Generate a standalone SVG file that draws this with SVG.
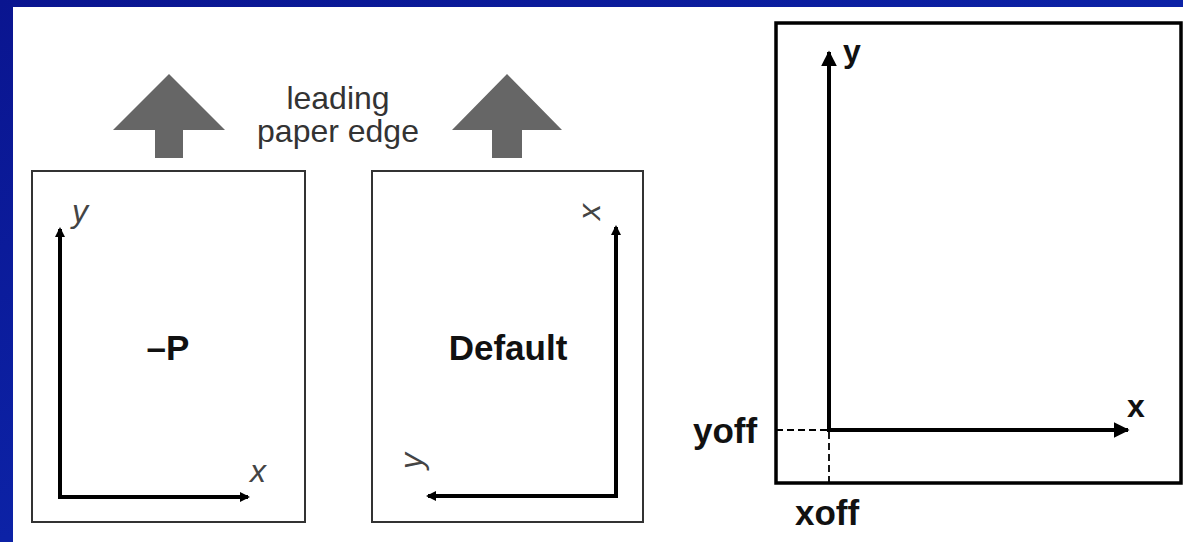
<svg xmlns="http://www.w3.org/2000/svg" width="1183" height="542" viewBox="0 0 1183 542">
<defs>
<linearGradient id="bg" x1="0" y1="0" x2="1" y2="1">
<stop offset="0" stop-color="#0a1590"/>
<stop offset="0.5" stop-color="#0c22a6"/>
<stop offset="1" stop-color="#0a1a9c"/>
</linearGradient>
<marker id="sm" viewBox="0 0 10 10" refX="8" refY="5" markerUnits="userSpaceOnUse" markerWidth="10" markerHeight="10" orient="auto-start-reverse">
<path d="M0,0 L10,5 L0,10 z" fill="#000"/>
</marker>
<marker id="lg" viewBox="0 0 10 10" refX="9" refY="5" markerUnits="userSpaceOnUse" markerWidth="16" markerHeight="17" orient="auto-start-reverse">
<path d="M0,0 L10,5 L0,10 z" fill="#000"/>
</marker>
</defs>
<style>
.page{fill:#fff;stroke:#333;stroke-width:2}
.pageb{fill:#fff;stroke:#000;stroke-width:3.5}
.axis{fill:none;stroke:#000;stroke-width:4}
.dash{fill:none;stroke:#000;stroke-width:1.8;stroke-dasharray:7 4}
.lbl{font-family:"Liberation Sans",Arial,sans-serif;font-size:32px;fill:#333}
.it{font-family:"Liberation Sans",Arial,sans-serif;font-size:32px;font-style:italic;fill:#444}
.b{font-family:"Liberation Sans",Arial,sans-serif;font-size:35px;font-weight:bold;fill:#111}
.bs{font-family:"Liberation Sans",Arial,sans-serif;font-size:32px;font-weight:bold;fill:#111}
.feed{fill:#666}
</style>
<rect x="0" y="0" width="1183" height="542" fill="url(#bg)"/>
<rect x="13" y="7" width="1170" height="535" fill="#fff"/>

<g id="feed-arrow-1"><polygon class="feed" points="169,74 225,130 183,130 183,158 155,158 155,130 113,130"/></g>
<g id="feed-arrow-2"><polygon class="feed" points="507,74 562,130 522,130 522,158 492,158 492,130 452,130"/></g>
<g id="leading-label">
<text class="lbl" x="338" y="109" text-anchor="middle">leading</text>
<text class="lbl" x="338" y="142" text-anchor="middle">paper edge</text>
</g>

<g id="page-P">
<rect class="page" x="32" y="171" width="273" height="351"/>
<text class="b" x="168" y="360" text-anchor="middle">–P</text>
<text class="it" x="72" y="222">y</text>
<text class="it" x="250" y="482">x</text>
</g>

<g id="page-default">
<rect class="page" x="372" y="171" width="271" height="351"/>
<text class="b" x="508" y="360" text-anchor="middle">Default</text>
<text class="it" transform="translate(592,212) rotate(-90)" text-anchor="middle" dominant-baseline="middle">x</text>
<text class="it" transform="translate(422,461) rotate(-90)" text-anchor="middle">y</text>
</g>

<g id="page-offset">
<rect class="pageb" x="776" y="23" width="405" height="460"/>
<text class="bs" x="843" y="62">y</text>
<text class="bs" x="1127" y="417">x</text>
<text class="b" x="693" y="443">yoff</text>
<text class="b" x="795" y="525">xoff</text>
</g>

<g id="connectors">
<path class="axis" d="M60,229 V497 H248" marker-start="url(#sm)" marker-end="url(#sm)"/>
<path class="axis" d="M616,227 V496 H428" marker-start="url(#sm)" marker-end="url(#sm)"/>
<path class="axis" d="M829,52 V430 H1128" marker-start="url(#lg)" marker-end="url(#lg)"/>
<path class="dash" d="M776,430 H827"/>
<path class="dash" d="M829,432 V483"/>
</g>
</svg>
